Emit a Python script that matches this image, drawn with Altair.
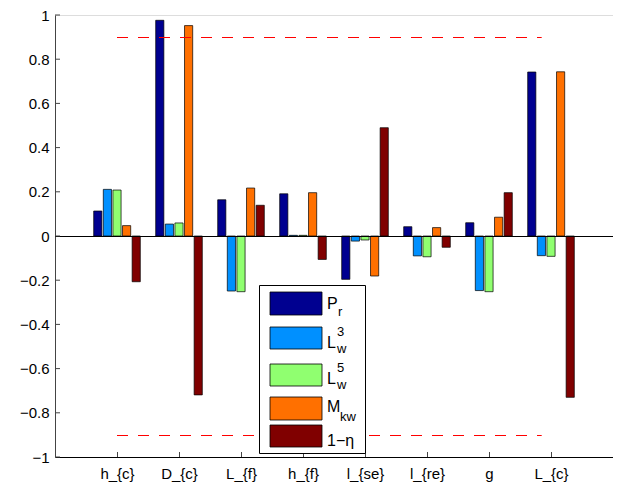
import json
import altair as alt
import pandas as pd

# ---------------- data ----------------
categories = ["h_{c}", "D_{c}", "L_{f}", "h_{f}", "l_{se}", "l_{re}", "g", "L_{c}"]
series = ["P_r", "L_w^3", "L_w^5", "M_kw", "1-eta"]
P_r = [0.113, 0.976, 0.164, 0.191, -0.196, 0.042, 0.060, 0.742]
L_w3 = [0.211, 0.054, -0.249, 0.003, -0.023, -0.090, -0.247, -0.089]
L_w5 = [0.208, 0.059, -0.252, 0.003, -0.018, -0.094, -0.252, -0.092]
M_kw = [0.047, 0.952, 0.217, 0.196, -0.181, 0.038, 0.085, 0.743]
one_minus_eta = [-0.207, -0.719, 0.139, -0.106, 0.490, -0.051, 0.196, -0.730]
colors = ["#000090", "#0090FF", "#90FF70", "#FF7000", "#800000"]
upper_limit = 0.9
lower_limit = -0.9
y_ticks = [-1, -0.8, -0.6, -0.4, -0.2, 0, 0.2, 0.4, 0.6, 0.8, 1]

# ---------------- layout ----------------
W, H = 558, 442
FONT = "Liberation Sans"
STEP = 0.155
BW = 0.066

all_vals = [P_r, L_w3, L_w5, M_kw, one_minus_eta]
rows = []
for s, (name, vals) in enumerate(zip(series, all_vals)):
    for i, v in enumerate(vals):
        rows.append({"pos": i + 1, "s": s, "series": name, "value": v})
df = pd.DataFrame(rows)

xscale = alt.Scale(domain=[0, len(categories) + 1], nice=False, zero=False)
yscale = alt.Scale(domain=[-1, 1], nice=False)

label_expr = "%s[datum.value - 1]" % json.dumps(categories)

xaxis = alt.Axis(
    values=list(range(1, len(categories) + 1)), labelExpr=label_expr, ticks=False,
    grid=False, domainColor="black", domainWidth=1, labelFont=FONT, labelFontSize=15,
    labelColor="black", labelPadding=9, title=None, labelBaseline="top",
)
yaxis = alt.Axis(
    values=y_ticks, format="~g", ticks=False, grid=False, domainColor="#444",
    domainWidth=1, labelFont=FONT, labelFontSize=15, labelColor="black",
    labelPadding=6, title=None,
)

bars = alt.Chart(df).transform_calculate(
    x0=f"datum.pos + (datum.s - 2) * {STEP} - {BW}",
    x1=f"datum.pos + (datum.s - 2) * {STEP} + {BW}",
).mark_rect(stroke="black", strokeWidth=0.7).encode(
    x=alt.X("x0:Q", scale=xscale, axis=xaxis),
    x2="x1:Q",
    y=alt.Y("value:Q", scale=yscale, axis=yaxis),
    y2=alt.datum(0),
    color=alt.Color("series:N", scale=alt.Scale(domain=series, range=colors), legend=None),
)

zero = alt.Chart(pd.DataFrame({"a": [0], "b": [len(categories) + 1], "y": [0]})).mark_rule(
    color="black", strokeWidth=1, yOffset=0.5
).encode(x=alt.X("a:Q", scale=xscale), x2="b:Q", y=alt.Y("y:Q", scale=yscale))

dash_hi = alt.Chart(pd.DataFrame({"y": [upper_limit], "a": [1], "b": [7.85]})).mark_rule(
    color="#ff0000", strokeWidth=1, strokeDash=[11, 10], yOffset=0.4
).encode(x=alt.X("a:Q", scale=xscale), x2="b:Q", y=alt.Y("y:Q", scale=yscale))
dash_lo = alt.Chart(pd.DataFrame({"y": [lower_limit], "a": [1], "b": [7.85]})).mark_rule(
    color="#ff0000", strokeWidth=1, strokeDash=[11, 10], yOffset=0.6
).encode(x=alt.X("a:Q", scale=xscale), x2="b:Q", y=alt.Y("y:Q", scale=yscale))

yt = alt.Chart(pd.DataFrame({"v": y_ticks})).mark_rule(color="#444", strokeWidth=1).encode(
    y=alt.Y("v:Q", scale=yscale), x=alt.value(0), x2=alt.value(5)
)
xt = alt.Chart(pd.DataFrame({"c": list(range(1, len(categories) + 1))})).mark_rule(
    color="#444", strokeWidth=1, xOffset=0.5
).encode(x=alt.X("c:Q", scale=xscale), y=alt.value(H), y2=alt.value(H - 5))

# ---------------- legend (hand-built for sub/superscripts) ----------------
one = pd.DataFrame({"a": [0]})
legend_layers = [
    alt.Chart(one).mark_rect(fill="white", stroke="black", strokeWidth=1).encode(
        x=alt.value(204.5), x2=alt.value(310.5), y=alt.value(270.5), y2=alt.value(438.5)
    )
]
patch_y = [(277, 300), (312, 334), (349, 371), (382, 405), (410, 432)]
for (y0, y1), c in zip(patch_y, colors):
    legend_layers.append(
        alt.Chart(one).mark_rect(fill=c, stroke="black", strokeWidth=0.8).encode(
            x=alt.value(215), x2=alt.value(267), y=alt.value(y0), y2=alt.value(y1)
        )
    )
legend_text = [
    ("P", 272, 294, 16), ("r", 283, 301, 13),
    ("L", 272, 333, 16), ("3", 282, 321, 13), ("w", 282, 338, 13),
    ("L", 272, 369, 16), ("5", 282, 357, 13), ("w", 282, 374, 13),
    ("M", 272, 397, 16), ("kw", 285, 406, 13),
    ("1\u2212\u03b7", 272, 431, 16),
]
for t, x, y, fs in legend_text:
    legend_layers.append(
        alt.Chart(one).mark_text(
            text=t, font=FONT, fontSize=fs, color="black", align="left", baseline="alphabetic"
        ).encode(x=alt.value(x), y=alt.value(y))
    )

chart = alt.layer(bars, zero, dash_hi, dash_lo, yt, xt, *legend_layers).properties(
    width=W, height=H,
    autosize=alt.AutoSizeParams(type="none"),
    padding={"left": 47, "top": 7, "right": 0, "bottom": 25},
).configure_view(stroke=None).configure(background="white")

chart.save("out.html", embed_options={"renderer": "svg", "actions": False})
